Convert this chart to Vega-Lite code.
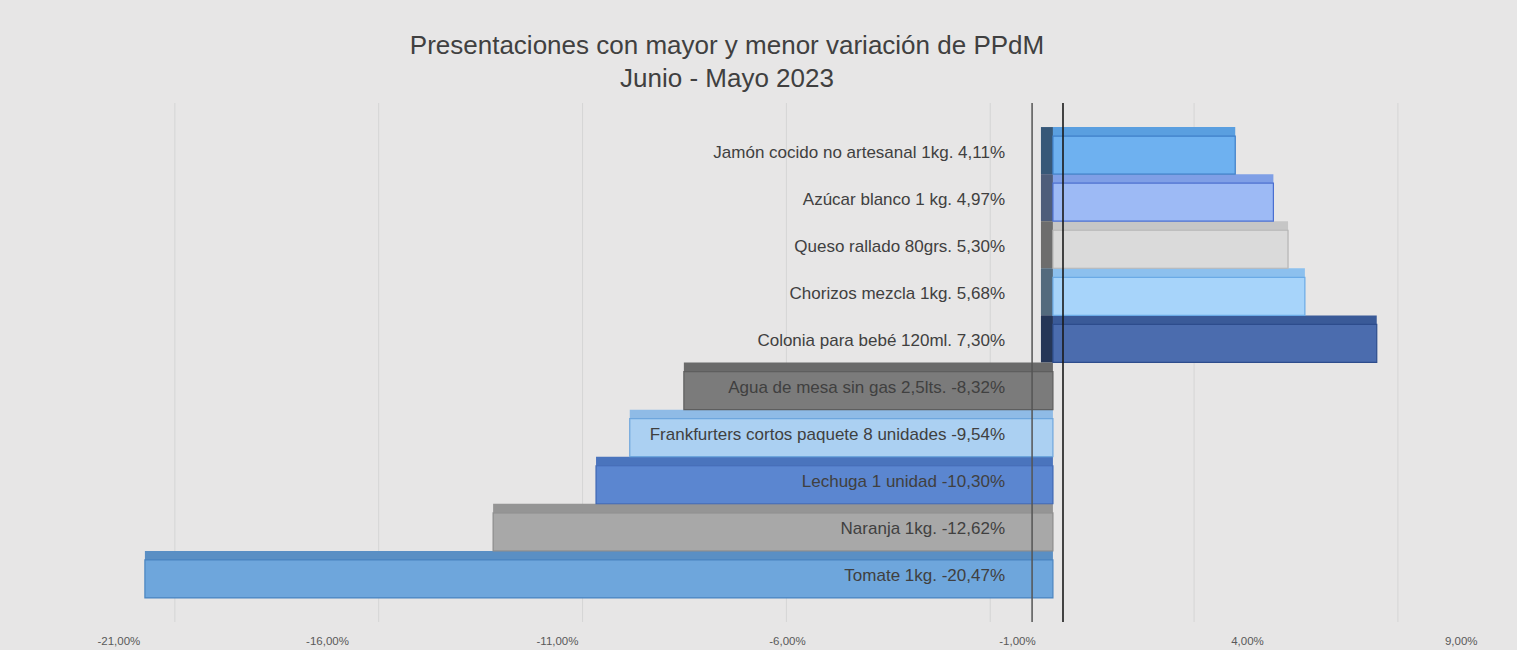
{
  "$schema": "https://vega.github.io/schema/vega-lite/v6.json",
  "width": 1380,
  "height": 519,
  "autosize": {"type": "none"},
  "padding": {"left": 97, "top": 103, "right": 40, "bottom": 28},
  "background": "#e7e6e6",
  "config": {"view": {"stroke": null}, "font": "Liberation Sans"},
  "title": {
    "text": ["Presentaciones con mayor y menor variación de PPdM", "Junio - Mayo 2023"],
    "fontSize": 26,
    "fontWeight": "normal",
    "color": "#404040",
    "anchor": "middle",
    "dx": -60,
    "offset": 10,
    "lineHeight": 33,
    "font": "Liberation Sans"
  },
  "datasets": {
    "ticks": [{"v": -21}, {"v": -16}, {"v": -11}, {"v": -6}, {"v": -1}, {"v": 4}, {"v": 9}]
  },
  "data": {
    "values": [
      {"producto": "Jamón cocido no artesanal 1kg.", "valor": 4.11, "etiqueta": "Jamón cocido no artesanal 1kg. 4,11%"},
      {"producto": "Azúcar blanco 1 kg.", "valor": 4.97, "etiqueta": "Azúcar blanco 1 kg. 4,97%"},
      {"producto": "Queso rallado 80grs.", "valor": 5.30, "etiqueta": "Queso rallado 80grs. 5,30%"},
      {"producto": "Chorizos mezcla 1kg.", "valor": 5.68, "etiqueta": "Chorizos mezcla 1kg. 5,68%"},
      {"producto": "Colonia para bebé 120ml.", "valor": 7.30, "etiqueta": "Colonia para bebé 120ml. 7,30%"},
      {"producto": "Agua de mesa sin gas 2,5lts.", "valor": -8.32, "etiqueta": "Agua de mesa sin gas 2,5lts. -8,32%"},
      {"producto": "Frankfurters cortos paquete 8 unidades", "valor": -9.54, "etiqueta": "Frankfurters cortos paquete 8 unidades -9,54%"},
      {"producto": "Lechuga 1 unidad", "valor": -10.30, "etiqueta": "Lechuga 1 unidad -10,30%"},
      {"producto": "Naranja 1kg.", "valor": -12.62, "etiqueta": "Naranja 1kg. -12,62%"},
      {"producto": "Tomate 1kg.", "valor": -20.47, "etiqueta": "Tomate 1kg. -20,47%"}
    ]
  },
  "layer": [
    {
      "data": {"name": "ticks"},
      "mark": {"type": "rule", "color": "#d5d5d5", "strokeWidth": 1},
      "encoding": {
        "x": {"field": "v", "type": "quantitative", "scale": {"domain": [-22.91, 10.94], "nice": false, "zero": false}, "axis": null}
      }
    },
    {
      "data": {"name": "ticks"},
      "mark": {"type": "rule", "opacity": 0},
      "encoding": {
        "x": {
          "field": "v",
          "type": "quantitative",
          "scale": {"domain": [-21, 9], "nice": false, "zero": false},
          "axis": {
            "values": [-21, -16, -11, -6, -1, 4, 9],
            "labelExpr": "(datum.value < 0 ? '-' : '') + replace(format(abs(datum.value), '.2f'), '.', ',') + '%'",
            "grid": false,
            "domain": false,
            "ticks": false,
            "labelFontSize": 11.5,
            "labelColor": "#595959",
            "labelPadding": 13,
            "labelFont": "Liberation Sans",
            "title": null
          }
        }
      }
    },
    {
      "transform": [{"filter": "datum.valor > 0"}],
      "mark": {"type": "bar", "height": 47},
      "encoding": {
        "y": {"field": "producto", "type": "nominal", "sort": null, "axis": null},
        "x": {"datum": -0.27, "type": "quantitative", "scale": {"domain": [-21.55, 9.56], "nice": false}, "axis": null},
        "x2": {"datum": 0},
        "fill": {"field": "producto", "type": "nominal", "legend": null}
      }
    },
    {
      "transform": [{"filter": "datum.valor > 0"}],
      "mark": {"type": "bar", "height": 47, "color": "#000000", "opacity": 0.5},
      "encoding": {
        "y": {"field": "producto", "type": "nominal", "sort": null, "axis": null},
        "x": {"datum": -0.27, "type": "quantitative", "scale": {"domain": [-21.55, 9.56], "nice": false}, "axis": null},
        "x2": {"datum": 0}
      }
    },
    {
      "mark": {"type": "bar", "height": 9, "yOffset": -19},
      "encoding": {
        "y": {"field": "producto", "type": "nominal", "sort": null, "scale": {"paddingInner": 0, "paddingOuter": 0.51}, "axis": null},
        "x": {"field": "valor", "type": "quantitative", "stack": null, "scale": {"domain": [-21.55, 9.56], "nice": false}, "axis": null},
        "color": {
          "field": "producto",
          "type": "nominal",
          "scale": {
            "domain": ["Jamón cocido no artesanal 1kg.", "Azúcar blanco 1 kg.", "Queso rallado 80grs.", "Chorizos mezcla 1kg.", "Colonia para bebé 120ml.", "Agua de mesa sin gas 2,5lts.", "Frankfurters cortos paquete 8 unidades", "Lechuga 1 unidad", "Naranja 1kg.", "Tomate 1kg."],
            "range": ["#5a9fe0", "#7f9fe6", "#c6c6c6", "#8cc0ee", "#3a5a98", "#6a6a6a", "#8fbbe6", "#4a74bd", "#959595", "#5a8fc4"]
          },
          "legend": null
        }
      }
    },
    {
      "mark": {"type": "bar", "height": 38, "yOffset": 4.5, "strokeWidth": 1.2},
      "encoding": {
        "y": {"field": "producto", "type": "nominal", "sort": null, "axis": null},
        "x": {"field": "valor", "type": "quantitative", "stack": null, "scale": {"domain": [-21.55, 9.56], "nice": false}, "axis": null},
        "fill": {
          "field": "producto",
          "type": "nominal",
          "scale": {
            "domain": ["Jamón cocido no artesanal 1kg.", "Azúcar blanco 1 kg.", "Queso rallado 80grs.", "Chorizos mezcla 1kg.", "Colonia para bebé 120ml.", "Agua de mesa sin gas 2,5lts.", "Frankfurters cortos paquete 8 unidades", "Lechuga 1 unidad", "Naranja 1kg.", "Tomate 1kg."],
            "range": ["#6eb1f0", "#9dbaf5", "#dadada", "#a7d4fa", "#4b6cae", "#7b7b7b", "#abd0f2", "#5b86d0", "#a8a8a8", "#6ea6dc"]
          },
          "legend": null
        },
        "stroke": {
          "field": "producto",
          "type": "nominal",
          "scale": {
            "domain": ["Jamón cocido no artesanal 1kg.", "Azúcar blanco 1 kg.", "Queso rallado 80grs.", "Chorizos mezcla 1kg.", "Colonia para bebé 120ml.", "Agua de mesa sin gas 2,5lts.", "Frankfurters cortos paquete 8 unidades", "Lechuga 1 unidad", "Naranja 1kg.", "Tomate 1kg."],
            "range": ["#3e7fc8", "#4b6fd0", "#b5b5b5", "#6aaae6", "#2d4c8c", "#5e5e5e", "#6ea6dd", "#3c66b4", "#8c8c8c", "#4a84c0"]
          },
          "legend": null
        }
      }
    },
    {
      "data": {"values": [{"a": 1}]},
      "mark": {"type": "rule", "color": "#555555", "strokeWidth": 1.5},
      "encoding": {
        "x": {"datum": -0.47, "type": "quantitative", "scale": {"domain": [-21.55, 9.56], "nice": false}, "axis": null}
      }
    },
    {
      "data": {"values": [{"a": 1}]},
      "mark": {"type": "rule", "color": "#1a1a1a", "strokeWidth": 1.6},
      "encoding": {
        "x": {"datum": 0, "type": "quantitative", "scale": {"domain": [-21, 9], "nice": false}, "axis": null}
      }
    },
    {
      "mark": {"type": "text", "align": "right", "baseline": "middle", "fontSize": 17, "color": "#404040", "yOffset": 2, "font": "Liberation Sans"},
      "encoding": {
        "y": {"field": "producto", "type": "nominal", "sort": null, "axis": null},
        "x": {"datum": -1.08, "type": "quantitative", "scale": {"domain": [-21.55, 9.56], "nice": false}, "axis": null},
        "text": {"field": "etiqueta"}
      }
    }
  ],
  "resolve": {"scale": {"x": "independent"}}
}
